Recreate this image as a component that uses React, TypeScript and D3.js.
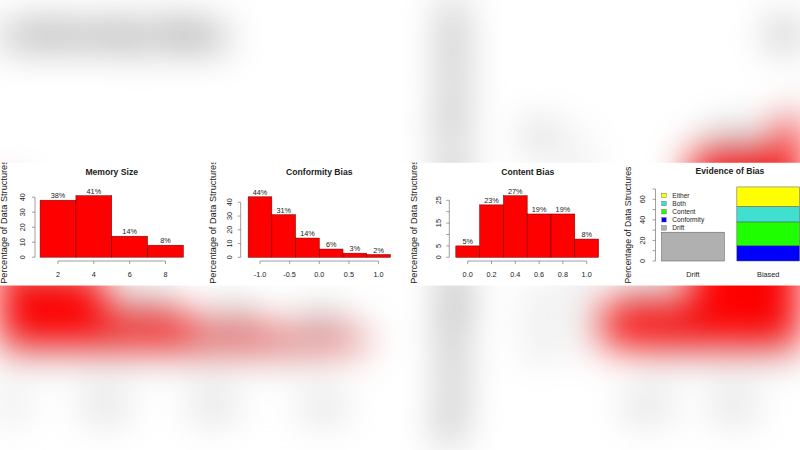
import React from "react";
import * as d3 from "d3";

const FONT = "'Liberation Sans', Arial, Helvetica, sans-serif";

// ---- data ----
const memoryMids = [2, 4, 6, 8];
const memoryPct = [38, 41, 14, 8];
const memoryXTicks = [2, 4, 6, 8];
const memoryYTicks = [0, 10, 20, 30, 40];

const conformityMids = [-1.0, -0.6, -0.2, 0.2, 0.6, 1.0];
const conformityPct = [44, 31, 14, 6, 3, 2];
const conformityXTicks = [-1.0, -0.5, 0.0, 0.5, 1.0];
const conformityYTicks = [0, 10, 20, 30, 40];

const contentMids = [0.0, 0.2, 0.4, 0.6, 0.8, 1.0];
const contentPct = [5, 23, 27, 19, 19, 8];
const contentXTicks = [0.0, 0.2, 0.4, 0.6, 0.8, 1.0];
const contentYTicks = [0, 5, 10, 15, 20, 25];
const contentYLabels = [0, 5, 15, 25];

const evidenceGroups = ["Drift", "Biased"];
const evidenceSeries = ["Drift", "Conformity", "Content", "Both", "Either"];
const evidenceColors = ["#b0b0b0", "#0000ff", "#1eff00", "#40e0d0", "#ffff00"];
const evidenceValues = [
  [28, 0],
  [0, 15],
  [0, 23],
  [0, 15],
  [0, 19],
];
const evidenceYTicks = [0, 10, 20, 30, 40, 50, 60, 70];
const evidenceYLabels = [0, 20, 40, 60];
const legendOrder = ["Either", "Both", "Content", "Conformity", "Drift"];

const TEXT = "#222";
const AXIS = "#777";
const BAR_STROKE = "#6a0000";

type HistProps = {
  title: string;
  mids: number[];
  pct: number[];
  binW: number;
  xTicks: number[];
  yTicks: number[];
  yLabels?: number[];
  xDom: [number, number];
  xRng: [number, number];
  yDom: [number, number];
  yRng: [number, number];
  yAxisX: number;
  yTickLabelX: number;
  yTitleX: number;
  yTitleY: number;
  titleX: number;
  fmt: (v: number) => string;
};

function HistPanel(p: HistProps) {
  const x = d3.scaleLinear().domain(p.xDom).range(p.xRng);
  const y = d3.scaleLinear().domain(p.yDom).range(p.yRng);
  const labels = p.yLabels ?? p.yTicks;
  const xAxisY = 261;
  return (
    <g>
      <text x={p.titleX} y={175} textAnchor="middle" fontWeight="bold" fontSize={8.6} fill={TEXT} fontFamily={FONT}>
        {p.title}
      </text>
      <text
        transform={`translate(${p.yTitleX},${p.yTitleY}) rotate(-90)`}
        textAnchor="middle"
        dominantBaseline="central"
        fontSize={9.2}
        fill={TEXT}
        fontFamily={FONT}
      >
        Percentage of Data Structures
      </text>
      {p.mids.map((m, i) => (
        <rect
          key={i}
          x={x(m - p.binW / 2)}
          y={y(p.pct[i])}
          width={x(m + p.binW / 2) - x(m - p.binW / 2)}
          height={y(0) - y(p.pct[i])}
          fill="#ff0000"
          stroke={BAR_STROKE}
          strokeWidth={0.5}
        />
      ))}
      {p.mids.map((m, i) => (
        <text key={i} x={x(m)} y={y(p.pct[i]) - 1.8} textAnchor="middle" fontSize={7.3} fill={TEXT} fontFamily={FONT}>
          {p.pct[i]}%
        </text>
      ))}
      <line x1={p.yAxisX} x2={p.yAxisX} y1={y(p.yTicks[0])} y2={y(p.yTicks[p.yTicks.length - 1])} stroke={AXIS} strokeWidth={0.7} />
      {p.yTicks.map((t) => (
        <line key={t} x1={p.yAxisX - 3} x2={p.yAxisX} y1={y(t)} y2={y(t)} stroke={AXIS} strokeWidth={0.7} />
      ))}
      {labels.map((t) => (
        <text
          key={t}
          transform={`translate(${p.yTickLabelX},${y(t)}) rotate(-90)`}
          textAnchor="middle"
          dominantBaseline="central"
          fontSize={7.3}
          fill={TEXT}
          fontFamily={FONT}
        >
          {t}
        </text>
      ))}
      <line x1={x(p.xTicks[0])} x2={x(p.xTicks[p.xTicks.length - 1])} y1={xAxisY} y2={xAxisY} stroke={AXIS} strokeWidth={0.7} />
      {p.xTicks.map((t) => (
        <line key={t} x1={x(t)} x2={x(t)} y1={xAxisY} y2={xAxisY + 3} stroke={AXIS} strokeWidth={0.7} />
      ))}
      {p.xTicks.map((t) => (
        <text key={t} x={x(t)} y={276.5} textAnchor="middle" fontSize={7.3} fill={TEXT} fontFamily={FONT}>
          {p.fmt(t)}
        </text>
      ))}
    </g>
  );
}

function EvidencePanel() {
  const x = d3.scaleLinear().domain([0, 2.4]).range([649, 799.6]);
  const y = d3.scaleLinear().domain([0, 70]).range([261, 189]);
  const stack = d3
    .stack<number>()
    .keys(evidenceSeries.map((_, i) => String(i)))
    .value((gi, key) => evidenceValues[+key][gi]);
  const layers = stack(evidenceGroups.map((_, gi) => gi));
  const yAxisX = 655.5;
  return (
    <g>
      <text x={730} y={174} textAnchor="middle" fontWeight="bold" fontSize={8.6} fill={TEXT} fontFamily={FONT}>
        Evidence of Bias
      </text>
      <text
        transform={`translate(627.8,225) rotate(-90)`}
        textAnchor="middle"
        dominantBaseline="central"
        fontSize={8.7}
        fill={TEXT}
        fontFamily={FONT}
      >
        Percentage of Data Structures
      </text>
      {layers.map((layer, si) =>
        layer.map((seg, gi) => {
          const h = y(seg[0]) - y(seg[1]);
          if (h <= 0) return null;
          const x0 = x(0.2 + gi * 1.2);
          const x1 = x(1.2 + gi * 1.2);
          return (
            <rect
              key={`${si}-${gi}`}
              x={x0}
              y={y(seg[1])}
              width={x1 - x0}
              height={h}
              fill={evidenceColors[si]}
              stroke="#555"
              strokeWidth={0.5}
            />
          );
        })
      )}
      {evidenceGroups.map((g, gi) => (
        <text key={g} x={x(0.7 + gi * 1.2)} y={276.5} textAnchor="middle" fontSize={7.3} fill={TEXT} fontFamily={FONT}>
          {g}
        </text>
      ))}
      <line x1={yAxisX} x2={yAxisX} y1={y(0)} y2={y(70)} stroke={AXIS} strokeWidth={0.7} />
      {evidenceYTicks.map((t) => (
        <line key={t} x1={yAxisX - 3} x2={yAxisX} y1={y(t)} y2={y(t)} stroke={AXIS} strokeWidth={0.7} />
      ))}
      {evidenceYLabels.map((t) => (
        <text
          key={t}
          transform={`translate(642.7,${y(t)}) rotate(-90)`}
          textAnchor="middle"
          dominantBaseline="central"
          fontSize={7.3}
          fill={TEXT}
          fontFamily={FONT}
        >
          {t}
        </text>
      ))}
      {legendOrder.map((name, i) => {
        const ci = evidenceSeries.indexOf(name);
        const cy = 195.5 + i * 8.1;
        return (
          <g key={name}>
            <rect x={661.8} y={cy - 2.2} width={4.4} height={4.4} fill={evidenceColors[ci]} stroke="#555" strokeWidth={0.4} />
            <text x={672.3} y={cy} dominantBaseline="central" fontSize={6.6} fill={TEXT} fontFamily={FONT}>
              {name}
            </text>
          </g>
        );
      })}
    </g>
  );
}

function Panels() {
  return (
    <g>
      <HistPanel
        title="Memory Size"
        mids={memoryMids}
        pct={memoryPct}
        binW={2}
        xTicks={memoryXTicks}
        yTicks={memoryYTicks}
        xDom={[2, 8]}
        xRng={[58, 165.5]}
        yDom={[0, 40]}
        yRng={[257.2, 197.2]}
        yAxisX={35}
        yTickLabelX={22.7}
        yTitleX={3.8}
        yTitleY={222}
        titleX={111.7}
        fmt={(v) => String(v)}
      />
      <HistPanel
        title="Conformity Bias"
        mids={conformityMids}
        pct={conformityPct}
        binW={0.4}
        xTicks={conformityXTicks}
        yTicks={conformityYTicks}
        xDom={[-1, 1]}
        xRng={[260, 378.6]}
        yDom={[0, 40]}
        yRng={[257.3, 202.3]}
        yAxisX={240.7}
        yTickLabelX={229.3}
        yTitleX={213.2}
        yTitleY={222}
        titleX={319.3}
        fmt={(v) => v.toFixed(1)}
      />
      <HistPanel
        title="Content Bias"
        mids={contentMids}
        pct={contentPct}
        binW={0.2}
        xTicks={contentXTicks}
        yTicks={contentYTicks}
        yLabels={contentYLabels}
        xDom={[0, 1]}
        xRng={[467.7, 586.7]}
        yDom={[0, 25]}
        yRng={[257.3, 200.3]}
        yAxisX={449.3}
        yTickLabelX={438.3}
        yTitleX={413.7}
        yTitleY={222}
        titleX={527.7}
        fmt={(v) => v.toFixed(1)}
      />
      <EvidencePanel />
    </g>
  );
}

const STRIP_TOP = 162.5;
const STRIP_BOTTOM = 285.7;

export default function App() {
  const h = STRIP_BOTTOM - STRIP_TOP;
  const k = 450 / h;
  const cy = (STRIP_TOP + STRIP_BOTTOM) / 2;
  return (
    <div style={{ position: "absolute", left: 0, top: 0, width: 800, height: 450, overflow: "hidden", background: "#fff" }}>
      <svg
        width={800}
        height={450}
        viewBox="0 0 800 450"
        style={{ position: "absolute", left: 0, top: 0, display: "block", filter: "blur(19px)" }}
      >
        <rect x={-100} y={-100} width={1000} height={650} fill="#fff" />
        <g transform={`translate(400,${cy}) scale(${k}) translate(-400,${-cy})`}>
          <Panels />
        </g>
      </svg>
      <svg
        width={800}
        height={450}
        viewBox="0 0 800 450"
        style={{ position: "absolute", left: 0, top: 0, display: "block" }}
      >
        <defs>
          <clipPath id="strip">
            <rect x={0} y={STRIP_TOP} width={800} height={h} />
          </clipPath>
        </defs>
        <g clipPath="url(#strip)">
          <rect x={0} y={STRIP_TOP} width={800} height={h} fill="#fff" />
          <Panels />
        </g>
      </svg>
    </div>
  );
}
